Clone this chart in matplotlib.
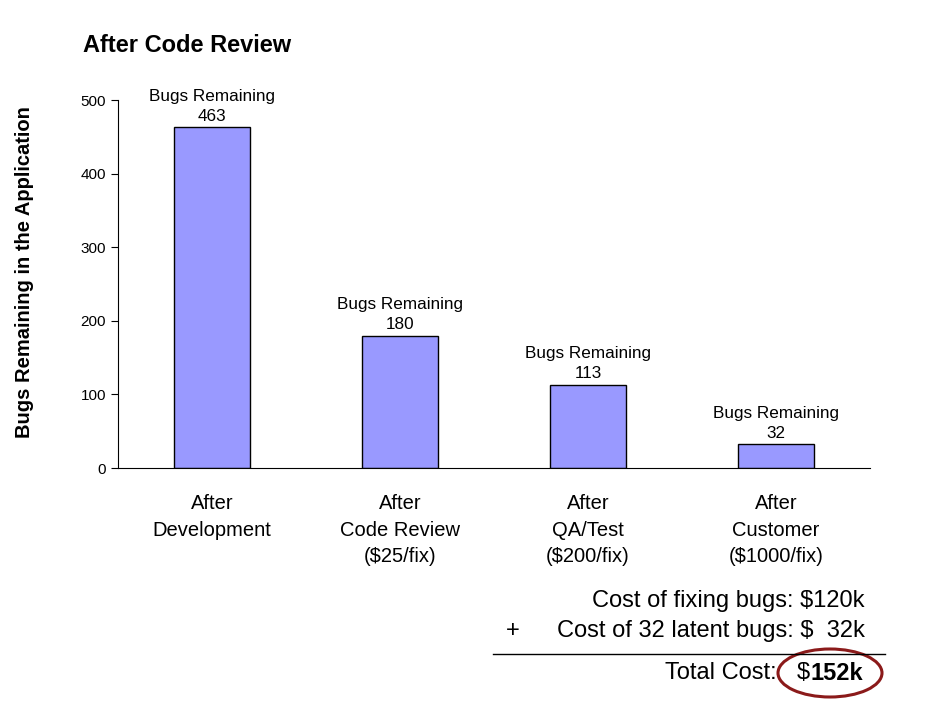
import matplotlib
matplotlib.use("Agg")
import matplotlib.pyplot as plt
from matplotlib.patches import Ellipse

categories = ["After\nDevelopment", "After\nCode Review\n($25/fix)", "After\nQA/Test\n($200/fix)", "After\nCustomer\n($1000/fix)"]
bugs = [463, 180, 113, 32]
yticks = [0, 100, 200, 300, 400, 500]

W, H = 928, 713
fig = plt.figure(figsize=(W/100, H/100), dpi=100)
ax = fig.add_axes([118/W, 1-468/H, 752/W, 368/H])
x = range(len(bugs))
ax.bar(x, bugs, width=0.4, color="#9999FF", edgecolor="black", linewidth=1)
ax.set_xlim(-0.5, 3.5)
ax.set_ylim(0, 500)
ax.set_yticks(yticks)
ax.set_xticks(list(x))
ax.set_xticklabels(categories, fontsize=14.5, family="Liberation Sans", linespacing=1.5)
ax.tick_params(axis="x", length=0, pad=19)
ax.tick_params(axis="y", labelsize=11, direction="out", length=5)
for lab in ax.get_yticklabels():
    lab.set_family("Liberation Sans")
for s in ["top", "right"]:
    ax.spines[s].set_visible(False)
for i, v in enumerate(bugs):
    ax.text(i, v + 5, f"Bugs Remaining\n{v}", ha="center", va="bottom", fontsize=12.3,
            family="Liberation Sans", linespacing=1.4)

fig.text(83/W, 1-45/H, "After Code Review", fontsize=17, fontweight="bold", family="Liberation Sans", va="center")
fig.text(25/W, 1-272/H, "Bugs Remaining in the Application", rotation=90, fontsize=14.5,
         fontweight="bold", family="Liberation Sans", ha="center", va="center")

fs = 17
fig.text(865/W, 1-601/H, "Cost of fixing bugs: $120k", ha="right", va="center", fontsize=fs, family="Liberation Sans")
fig.text(513/W, 1-631/H, "+", ha="center", va="center", fontsize=fs, family="Liberation Sans")
fig.text(865/W, 1-631/H, "Cost of 32 latent bugs: $  32k", ha="right", va="center", fontsize=fs, family="Liberation Sans")
fig.add_artist(plt.Line2D([493/W, 885/W], [1-654/H, 1-654/H], color="black", lw=1))
fig.text(777/W, 1-673/H, "Total Cost:", ha="right", va="center", fontsize=fs, family="Liberation Sans")
fig.text(797/W, 1-673/H, "$", ha="left", va="center", fontsize=fs, family="Liberation Sans")
fig.text(811/W, 1-673/H, "152k", ha="left", va="center", fontsize=fs, fontweight="bold", family="Liberation Sans")
fig.add_artist(Ellipse((830/W, 1-673/H), 104/W, 48/H, fill=False, edgecolor="#8B1A1A", lw=2.2,
                       transform=fig.transFigure))

fig.savefig("out.png", dpi=100, facecolor="white")
